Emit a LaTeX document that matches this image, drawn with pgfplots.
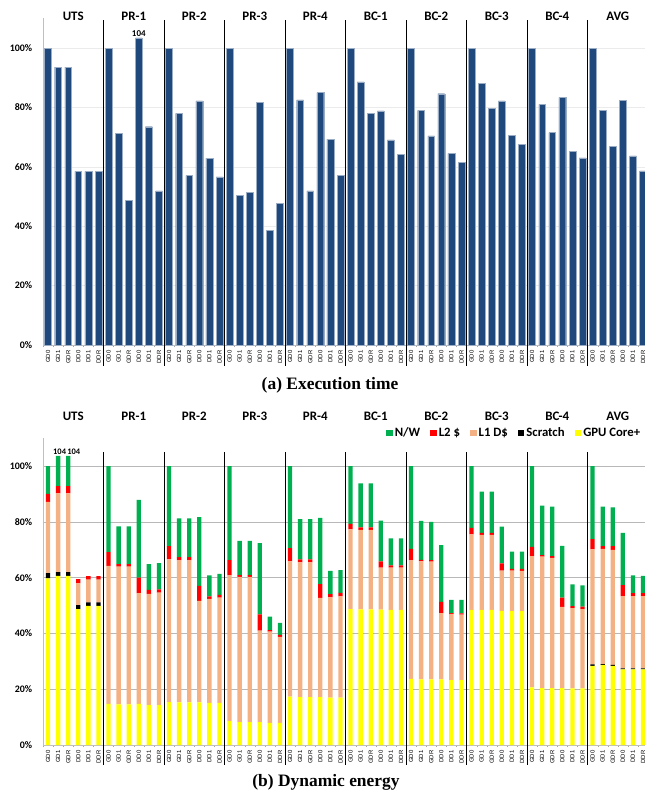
\documentclass[border=0pt]{standalone}
\usepackage{fontspec}
\setmainfont{Liberation Serif}
\newfontfamily\carlito{Carlito}
\newfontfamily\arial{Liberation Sans}
\usepackage{pgfplots}
\usepackage{pgfplotstable}
\pgfplotsset{compat=1.18}
\definecolor{cBlue}{HTML}{1F497D}
\definecolor{cGreen}{HTML}{00B050}
\definecolor{cRed}{HTML}{FF0000}
\definecolor{cPeach}{HTML}{F4B183}
\definecolor{cYellow}{HTML}{FFFF00}

\pgfplotstableread{
i lab T Y S L1 L2 NW
0 GD0 100 59.7 1.9 25.5 2.9 10.0
1 GD1 93.6 60.6 1.4 28.2 2.6 10.8
2 GDR 93.6 60.6 1.4 28.2 2.6 10.8
3 DD0 58.5 48.7 1.4 7.8 1.6 0
4 DD1 58.5 49.9 1.2 8.2 1.2 0
5 DDR 58.5 49.9 1.2 8.2 1.2 0
6 GD0 100 14.7 0 49.5 4.9 30.9
7 GD1 71.3 14.6 0 49.3 0.9 13.6
8 GDR 48.8 14.6 0 49.3 0.9 13.6
9 DD0 103.4 14.7 0 39.7 5.6 27.9
10 DD1 73.5 14.3 0 39.9 1.4 9.2
11 DDR 51.9 14.3 0 40.3 1.2 9.4
12 GD0 100 15.4 0 51.1 4.8 28.7
13 GD1 78.0 15.3 0 50.9 1.1 13.9
14 GDR 57.1 15.3 0 50.9 1.1 13.9
15 DD0 82.2 15.3 0 36.4 5.3 24.7
16 DD1 62.9 15.1 0 37.3 0.9 7.5
17 DDR 56.6 15.1 0 37.7 1.0 7.5
18 GD0 100 8.6 0 52.2 5.5 33.7
19 GD1 50.5 8.2 0 52.1 0.6 12.3
20 GDR 51.3 8.2 0 52.1 0.6 12.3
21 DD0 81.8 8.2 0 32.8 5.8 25.6
22 DD1 38.7 7.9 0 32.7 0.6 4.8
23 DDR 47.7 7.9 0 30.9 0.7 4.3
24 GD0 100 17.3 0 48.5 4.8 29.4
25 GD1 82.5 17.2 0 48.3 1.0 14.5
26 GDR 51.9 17.2 0 48.3 1.0 14.5
27 DD0 85.0 17.2 0 35.5 5.0 23.7
28 DD1 69.3 17.0 0 35.9 1.2 8.3
29 DDR 57.2 17.0 0 36.3 1.2 8.2
30 GD0 100 48.7 0 28.6 2.0 20.7
31 GD1 88.6 48.6 0 28.5 0.9 15.8
32 GDR 77.9 48.6 0 28.5 0.9 15.8
33 DD0 78.8 48.5 0 15.1 2.2 14.6
34 DD1 69.1 48.4 0 15.2 0.8 9.7
35 DDR 64.2 48.4 0 15.2 0.8 9.7
36 GD0 100 23.7 0 42.5 4.1 29.7
37 GD1 79.0 23.5 0 42.3 0.6 13.9
38 GDR 70.4 23.5 0 42.2 0.6 13.7
39 DD0 84.6 23.5 0 23.8 4.0 20.3
40 DD1 64.5 23.3 0 23.7 0.3 4.7
41 DDR 61.5 23.3 0 23.4 0.5 4.8
42 GD0 100 48.4 0 27.1 2.3 22.2
43 GD1 88.1 48.4 0 26.9 0.7 14.8
44 GDR 79.7 48.4 0 26.9 0.7 14.8
45 DD0 82.2 48.1 0 14.4 2.6 13.2
46 DD1 70.7 48.0 0 14.5 0.6 6.2
47 DDR 67.6 48.0 0 14.4 0.7 6.2
48 GD0 100 20.7 0 47.0 3.3 29.0
49 GD1 81.0 20.4 0 47.1 0.6 17.7
50 GDR 71.5 20.4 0 46.7 0.6 17.7
51 DD0 83.4 20.4 0 29.1 3.3 18.6
52 DD1 65.3 20.3 0 28.8 0.7 7.8
53 DDR 63.0 20.3 0 28.4 0.9 7.6
54 GD0 100 28.4 0.5 41.2 3.7 26.2
55 GD1 79.1 28.7 0.3 41.3 1.0 14.1
56 GDR 67.0 28.4 0.3 41.2 1.4 13.9
57 DD0 82.4 27.1 0.4 25.9 3.9 18.7
58 DD1 63.7 27.1 0.4 25.9 1.0 6.4
59 DDR 58.6 27.1 0.4 25.9 1.0 6.2
}\data

\pgfplotsset{
  common/.style={
    scale only axis, width=602bp,
    xmin=-0.5, xmax=59.2, ymin=0, ymax=110,
    clip=false,
    axis x line=bottom, axis y line=left,
    axis line style={draw=black!25, -},
    xtick={0,...,59},
    xticklabels from table={\data}{lab},
    major x tick style={draw=none},
    minor xtick={-0.5,0.5,...,59.5},
    minor x tick style={draw=black!35},
    minor tick length=2bp,
    tick align=outside,
    x tick label style={rotate=90, anchor=east, font=\arial\fontsize{6}{6}\selectfont, inner sep=1bp},
    ytick={0,20,...,100},
    major y tick style={draw=none},
    yticklabel={\pgfmathprintnumber{\tick}\%},
    /pgf/number format/assume math mode=true,
    y tick label style={font=\carlito\bfseries\fontsize{10}{10}\selectfont, xshift=-3bp},
    ymajorgrids,
  },
}
\tikzset{glab/.style={font=\carlito\bfseries\fontsize{13}{13}\selectfont, anchor=center}}

\begin{document}
\begin{tikzpicture}
\useasboundingbox (0,0) rectangle (645bp,-797bp);

% ---------------- (a) Execution time ----------------
\begin{axis}[common,
  at={(43bp,-345bp)}, anchor=south west,
  height=326.7bp,
  grid style={draw=black!8},
]
\addplot[ybar, bar width=6.8bp, bar shift=0pt, fill=cBlue, draw=cBlue!45!white, line width=0.4bp]
  table[x=i, y=T]{\data};
\node[font=\carlito\bfseries\fontsize{9}{9}\selectfont, anchor=south, inner sep=1.5bp] at (axis cs:9,103.4) {104};
\pgfplotsinvokeforeach{5.5,11.5,17.5,23.5,29.5,35.5,41.5,47.5,53.5}{
  \draw[black, line width=1bp] (axis cs:#1,109.4) -- (axis cs:#1,-7);
}
\node[glab] at (axis cs:2.5,110.8) {UTS};
\node[glab] at (axis cs:8.5,110.8) {PR-1};
\node[glab] at (axis cs:14.5,110.8) {PR-2};
\node[glab] at (axis cs:20.5,110.8) {PR-3};
\node[glab] at (axis cs:26.5,110.8) {PR-4};
\node[glab] at (axis cs:32.5,110.8) {BC-1};
\node[glab] at (axis cs:38.5,110.8) {BC-2};
\node[glab] at (axis cs:44.5,110.8) {BC-3};
\node[glab] at (axis cs:50.5,110.8) {BC-4};
\node[glab] at (axis cs:56.5,110.8) {AVG};
\end{axis}

% ---------------- (b) Dynamic energy ----------------
\begin{axis}[common,
  at={(43bp,-745bp)}, anchor=south west,
  height=306.9bp,
  grid style={draw=black!28},
  ybar stacked, bar width=4.3bp,
  reverse legend,
  legend columns=5,
  legend style={at={(0.5698,1.0166)}, anchor=west, draw=none, fill=none,
    font=\carlito\bfseries\fontsize{12.8}{13}\selectfont,
    /tikz/every even column/.style={column sep=8bp},
    inner sep=0pt},
  legend image code/.code={\fill[#1] (0bp,-3.3bp) rectangle (6.6bp,3.3bp);},
]
\addplot[fill=cYellow, draw=none] table[x=i, y=Y]{\data};
\addlegendentry{GPU Core+}
\addplot[fill=black, draw=none] table[x=i, y=S]{\data};
\addlegendentry{Scratch}
\addplot[fill=cPeach, draw=none] table[x=i, y=L1]{\data};
\addlegendentry{L1 D\$}
\addplot[fill=cRed, draw=none] table[x=i, y=L2]{\data};
\addlegendentry{L2 \$}
\addplot[fill=cGreen, draw=none] table[x=i, y=NW]{\data};
\addlegendentry{N/W}
\node[font=\carlito\bfseries\fontsize{8.5}{9}\selectfont, anchor=south, inner sep=1.5bp, xshift=1.5bp] at (axis cs:1,103.6) {104};
\node[font=\carlito\bfseries\fontsize{8.5}{9}\selectfont, anchor=south, inner sep=1.5bp, xshift=5.5bp] at (axis cs:2,103.6) {104};
\pgfplotsinvokeforeach{5.5,11.5,17.5,23.5,29.5,35.5,41.5,47.5,53.5}{
  \draw[black, line width=1bp] (axis cs:#1,105) -- (axis cs:#1,-7.2);
}
\node[glab] at (axis cs:2.5,117.9) {UTS};
\node[glab] at (axis cs:8.5,117.9) {PR-1};
\node[glab] at (axis cs:14.5,117.9) {PR-2};
\node[glab] at (axis cs:20.5,117.9) {PR-3};
\node[glab] at (axis cs:26.5,117.9) {PR-4};
\node[glab] at (axis cs:32.5,117.9) {BC-1};
\node[glab] at (axis cs:38.5,117.9) {BC-2};
\node[glab] at (axis cs:44.5,117.9) {BC-3};
\node[glab] at (axis cs:50.5,117.9) {BC-4};
\node[glab] at (axis cs:56.5,117.9) {AVG};
\end{axis}

\node[font=\bfseries\fontsize{17.5}{20}\selectfont] at (330bp,-385bp) {(a) Execution time};
\node[font=\bfseries\fontsize{17.5}{20}\selectfont] at (326bp,-782bp) {(b) Dynamic energy};
\end{tikzpicture}
\end{document}
